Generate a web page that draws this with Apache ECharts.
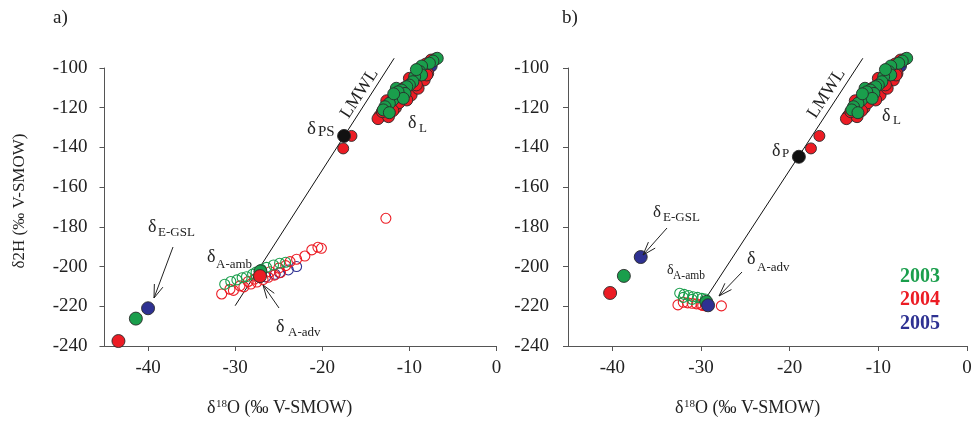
<!DOCTYPE html>
<html><head><meta charset="utf-8">
<script src="https://cdn.jsdelivr.net/npm/echarts@6/dist/echarts.min.js"></script>
<style>html,body{margin:0;padding:0;background:#fff}#c{width:976px;height:431px}</style>
</head><body><div id="c"></div>
<script>
// ---------- data (δ18O, δ2H) ----------
const xTicks = [-40, -30, -20, -10, 0];
const yTicks = [-240, -220, -200, -180, -160, -140, -120, -100];
const lmwlA = [[-30.0, -219.7], [-11.75, -95.1]];
const lmwlB = [[-29.4, -215.6], [-11.75, -95.1]];

// lake water (δL) – same in both panels
const lake2005 = [[-8.4,-101.5],[-9.6,-107.5],[-10.8,-112.5],[-12.0,-119.0],[-13.2,-123.5],[-9.1,-104.0],[-11.4,-116.0],[-10.1,-111.0],[-7.5,-99.0]];
const lake2004 = [[-7.5,-96.0],[-7.9,-102.7],[-9.8,-113.6],[-13.4,-124.2],[-12.8,-123.7],[-10.0,-105.2],[-12.1,-118.6],[-10.3,-116.1],[-13.6,-125.5],[-12.4,-124.5],[-11.6,-120.0],[-8.3,-106.0],[-7.0,-95.5],[-11.2,-117.5],[-13.1,-122.0],[-9.0,-110.2],[-8.1,-98.0],[-9.2,-108.5],[-10.6,-110.0],[-11.9,-121.5],[-12.6,-116.5],[-8.0,-103.5]];
const lake2003 = [[-6.8,-95.1],[-7.3,-96.5],[-7.7,-97.6],[-8.6,-99.0],[-8.8,-101.8],[-8.6,-103.5],[-9.4,-104.4],[-9.6,-106.9],[-10.0,-108.6],[-10.3,-109.4],[-11.5,-110.2],[-10.9,-111.1],[-10.5,-112.8],[-11.1,-114.4],[-11.9,-116.1],[-12.3,-117.8],[-12.8,-119.5],[-13.0,-121.1],[-11.3,-112.0],[-10.7,-115.3],[-9.2,-100.8],[-11.8,-113.0],[-12.3,-122.5]];

// precipitation near LMWL
const precip2004 = [[-16.65,-134.2],[-17.6,-140.5]];
const deltaPS = [[-17.5,-134.2]];
const deltaP = [[-18.96,-144.7]];

// evaporate (δE-GSL)
const egslA2003 = [[-41.4,-226.2]];
const egslA2004 = [[-43.4,-237.5]];
const egslA2005 = [[-40.0,-221.0]];
const egslB2003 = [[-38.7,-204.7]];
const egslB2004 = [[-40.25,-213.3]];
const egslB2005 = [[-36.8,-195.2]];

// atmospheric moisture, panel a (open circles)
const ambA2004 = [[-31.55,-213.8],[-30.6,-211.4],[-29.45,-209.7],[-28.5,-207.5],[-27.8,-206.3],[-26.0,-202.6],[-25.0,-200.8],[-24.2,-199.5],[-23.7,-197.5],[-22.95,-196.3],[-22.0,-194.7],[-21.2,-191.6],[-20.5,-190.3],[-20.1,-190.8],[-12.7,-175.7],[-29.0,-210.2],[-28.2,-208.8],[-27.5,-207.8],[-26.8,-206.5],[-26.2,-205.4],[-25.5,-204.3],[-24.8,-203.0],[-30.2,-212.0]];
const ambA2003 = [[-31.2,-208.9],[-29.8,-206.7],[-28.7,-205.1],[-28.0,-203.8],[-27.0,-201.4],[-26.4,-200.4],[-25.6,-199.2],[-24.9,-198.3],[-24.2,-197.8],[-30.5,-207.5],[-29.2,-205.6],[-27.6,-202.8]];
const ambA2005 = [[-23.9,-201.7],[-22.95,-200.0],[-24.9,-203.1],[-25.4,-203.9],[-26.5,-205.2]];
const advA2003 = [[-27.1,-202.4]];
const advA2004 = [[-27.15,-204.8]];

// atmospheric moisture, panel b
const ambB2003 = [[-32.4,-213.4],[-31.9,-214.0],[-31.4,-214.6],[-30.9,-215.2],[-30.4,-215.5],[-29.9,-216.0],[-29.5,-216.3],[-32.0,-215.5],[-31.0,-216.5]];
const ambB2004 = [[-32.6,-219.3],[-27.7,-219.8],[-31.5,-218.3],[-30.5,-218.8],[-29.8,-219.6],[-31.0,-218.5],[-30.0,-219.2],[-29.5,-219.8],[-32.0,-218.0]];
const advB2003 = [[-29.4,-217.8]];
const advB2005 = [[-29.2,-219.5]];

// ---------- styling ----------
const FONT = '"Liberation Serif", "Times New Roman", serif';
const GREEN = '#1a9e4c', RED = '#ec1c24', BLUE = '#2e3192', INK = '#222', AX = '#555';

const chart = echarts.init(document.getElementById('c'), null, {renderer: 'canvas'});

function xAx(g) {
  return {gridIndex: g, type: 'value', min: -45, max: 0,
    axisLine: {show: true, onZero: false, lineStyle: {color: AX, width: 1}},
    axisTick: {show: true, inside: false, length: 5, customValues: xTicks, lineStyle: {color: AX}},
    axisLabel: {customValues: xTicks, fontSize: 19, fontFamily: FONT, color: INK, margin: 13},
    splitLine: {show: false}};
}
function yAx(g, m) {
  return {gridIndex: g, type: 'value', min: -240, max: -100,
    axisLine: {show: true, onZero: false, lineStyle: {color: AX, width: 1}},
    axisTick: {show: true, inside: false, length: 5, customValues: yTicks, lineStyle: {color: AX}},
    axisLabel: {customValues: yTicks, fontSize: 19, fontFamily: FONT, color: INK, margin: m},
    splitLine: {show: false}};
}
function sc(g, data, color, filled, size, z) {
  return {type: 'scatter', xAxisIndex: g, yAxisIndex: g, data: data, symbol: 'circle', symbolSize: size,
    clip: false, z: z, silent: true,
    itemStyle: filled ? {color: color, borderColor: '#2a2a2a', borderWidth: 0.9, opacity: 1}
                      : {color: 'rgba(0,0,0,0)', borderColor: color, borderWidth: 1.1, opacity: 1}};
}
function ln(g, data) {
  return {type: 'line', xAxisIndex: g, yAxisIndex: g, data: data, symbol: 'none', clip: false, z: 1, silent: true,
    lineStyle: {color: '#111', width: 1}};
}

const series = [
  ln(0, lmwlA), ln(1, lmwlB),
  // panel a
  sc(0, ambA2005, BLUE, false, 10, 2), sc(0, ambA2004, RED, false, 10, 2), sc(0, ambA2003, GREEN, false, 10, 2),
  sc(0, advA2003, GREEN, true, 13, 3), sc(0, advA2004, RED, true, 13, 3),
  sc(0, lake2005, BLUE, true, 12, 3), sc(0, lake2004, RED, true, 12, 3), sc(0, lake2003, GREEN, true, 12, 3),
  sc(0, precip2004, RED, true, 11, 3), sc(0, deltaPS, '#111', true, 13, 4),
  sc(0, egslA2004, RED, true, 13, 3), sc(0, egslA2003, GREEN, true, 13, 3), sc(0, egslA2005, BLUE, true, 13, 3),
  // panel b
  sc(1, ambB2004, RED, false, 10, 2), sc(1, ambB2003, GREEN, false, 10, 2),
  sc(1, advB2003, GREEN, true, 13, 3), sc(1, advB2005, BLUE, true, 13, 3),
  sc(1, lake2005, BLUE, true, 12, 3), sc(1, lake2004, RED, true, 12, 3), sc(1, lake2003, GREEN, true, 12, 3),
  sc(1, precip2004, RED, true, 11, 3), sc(1, deltaP, '#111', true, 13, 4),
  sc(1, egslB2004, RED, true, 13, 3), sc(1, egslB2003, GREEN, true, 13, 3), sc(1, egslB2005, BLUE, true, 13, 3)
];

// ---------- annotation helpers (layout) ----------
function T(x, base, text, size, o) {
  o = o || {};
  return {type: 'text', x: x, y: base - 0.33 * size, rotation: o.rot || 0, z: 100,
    style: {text: text, font: (o.bold ? 'bold ' : '') + size + 'px ' + FONT, fill: o.color || INK,
      textAlign: o.align || 'left', textVerticalAlign: 'middle'}};
}
function arrow(x1, y1, x2, y2) {
  const dx = x2 - x1, dy = y2 - y1, L = Math.hypot(dx, dy), ux = dx / L, uy = dy / L;
  const h = 14, a = 0.33, c = Math.cos(a), s = Math.sin(a);
  const b1 = [x2 - h * (ux * c - uy * s), y2 - h * (uy * c + ux * s)];
  const b2 = [x2 - h * (ux * c + uy * s), y2 - h * (uy * c - ux * s)];
  const st = {stroke: INK, lineWidth: 1, fill: null};
  return [{type: 'polyline', z: 100, shape: {points: [[x1, y1], [x2, y2]]}, style: st},
          {type: 'polyline', z: 100, shape: {points: [b1, [x2, y2], b2]}, style: st}];
}
const ang = Math.atan2(247.4, 159.3);

const graphic = [
  T(53, 24, 'a)', 19), T(562, 24, 'b)', 19),
  {type: 'text', x: 20, y: 201, rotation: Math.PI / 2, z: 100,
   style: {text: 'δ2H (‰ V-SMOW)', font: '17px ' + FONT, fill: INK, textAlign: 'center', textVerticalAlign: 'middle'}},
  // x titles
  T(207, 414, 'δ', 18), T(216, 408, '18', 11), T(227, 414, 'O (‰ V-SMOW)', 18),
  T(675, 414, 'δ', 18), T(684, 408, '18', 11), T(695, 414, 'O (‰ V-SMOW)', 18),
  // panel a labels
  {type: 'text', x: 359.5, y: 93.5, rotation: ang, z: 100,
   style: {text: 'LMWL', font: '18px ' + FONT, fill: INK, textAlign: 'center', textVerticalAlign: 'middle'}},
  T(307, 135, 'δ', 19), T(318, 137, 'PS', 15),
  T(408, 129, 'δ', 18), T(419, 133, 'L', 13),
  T(207, 263, 'δ', 18), T(216, 269, 'A-amb', 13),
  T(276, 333, 'δ', 18), T(288, 337, 'A-adv', 13),
  T(148, 233, 'δ', 18), T(158, 237, 'E-GSL', 13),
  ...arrow(173, 247, 154, 298),
  ...arrow(279, 308, 263, 285),
  // panel b labels
  {type: 'text', x: 826.5, y: 93.5, rotation: ang, z: 100,
   style: {text: 'LMWL', font: '18px ' + FONT, fill: INK, textAlign: 'center', textVerticalAlign: 'middle'}},
  T(772, 157, 'δ', 18), T(782, 158, 'P', 13),
  T(882, 122, 'δ', 18), T(893, 125, 'L', 13),
  T(653, 218, 'δ', 17), T(663, 222, 'E-GSL', 13),
  T(667, 275, 'δ', 14), T(673, 280, 'A-amb', 11.5),
  T(747, 265, 'δ', 18), T(757, 272, 'A-adv', 13),
  ...arrow(667, 228, 643, 255),
  ...arrow(742, 272, 719, 296),
  // legend
  T(920, 283, '2003', 20, {bold: true, color: GREEN, align: 'center'}),
  T(920, 306, '2004', 20, {bold: true, color: RED, align: 'center'}),
  T(920, 330, '2005', 20, {bold: true, color: BLUE, align: 'center'})
];

chart.setOption({
  animation: false,
  backgroundColor: '#fff',
  grid: [
    {left: 104.5, top: 68, width: 392, height: 278},
    {left: 568, top: 68, width: 399, height: 278}
  ],
  xAxis: [xAx(0), xAx(1)],
  yAxis: [yAx(0, 17), yAx(1, 19)],
  series: series,
  graphic: graphic
});
</script></body></html>
